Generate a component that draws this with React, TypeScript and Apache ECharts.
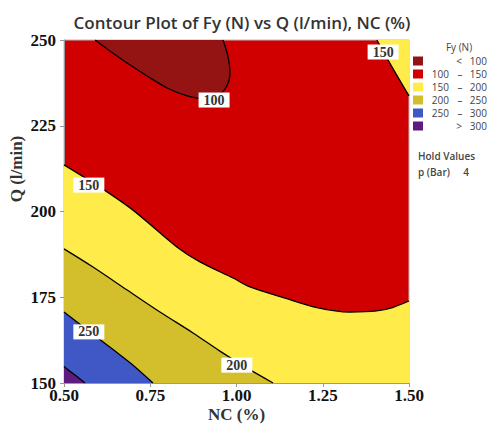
import React, { useEffect, useRef } from "react";
import * as echarts from "echarts";

// Contour lines: [NC (%), Q (l/min)]
const contour100 = [[0.590, 250], [0.633, 246.8], [0.683, 243.3], [0.741, 239.5], [0.799, 236.0], [0.857, 233.7], [0.909, 232.8], [0.946, 233.7], [0.972, 236.6], [0.981, 240.4], [0.975, 245.3], [0.961, 250]];
const contour150Upper = [[1.407, 250], [1.451, 242.1], [1.5, 233.7]];
const contour150Lower = [[0.5, 213.6], [0.604, 207.1], [0.700, 200.4], [0.828, 189.6], [0.894, 185.3], [0.990, 180.6], [1.039, 178.0], [1.136, 174.9], [1.233, 172.0], [1.328, 170.7], [1.406, 171.0], [1.452, 172.0], [1.5, 173.9]];
const contour200 = [[0.5, 189.1], [0.584, 183.8], [0.683, 177.1], [0.778, 170.7], [0.874, 164.6], [0.952, 159.3], [1.025, 154.7], [1.106, 150]];
const contour250 = [[0.5, 170.7], [0.575, 164.9], [0.648, 159.3], [0.706, 154.7], [0.758, 150]];
const contour300 = [[0.5, 154.8], [0.532, 152.3], [0.561, 150]];

// Contour labels: [NC, Q, level]
const contourLabels = [[0.935, 232.5, 100], [1.425, 246.5, 150], [0.572, 207.7, 150], [1.001, 155.2, 200], [0.572, 164.9, 250]];

const xTicks = [0.5, 0.75, 1.0, 1.25, 1.5];
const yTicks = [150, 175, 200, 225, 250];

const legendLow = ["<", "100", "150", "200", "250", ">"];
const legendHigh = ["100", "150", "200", "250", "300", "300"];
const bandColors = ["#941414", "#D00000", "#FFEB4A", "#D3BF2B", "#4057C6", "#5E1C7E"];

const SERIF = "'Liberation Serif', 'DejaVu Serif', serif";
const SANS = "'Open Sans', 'Noto Sans', sans-serif";

export default function App() {
  const ref = useRef<HTMLDivElement>(null);
  useEffect(() => {
    if (!ref.current) return;
    const chart = echarts.init(ref.current, null, { renderer: "svg" });

    const areaLine = (data: number[][], color: string, origin: string, z: number) => ({
      type: "line",
      data,
      smooth: 0.3,
      symbol: "none",
      z,
      lineStyle: { color: "#000", width: 1.3 },
      areaStyle: { color, opacity: 1, origin },
      silent: true,
    });

    const legendGraphics: any[] = [
      { type: "text", x: 459, y: 47, style: { text: "Fy (N)", font: `10px ${SANS}`, fill: "#444", align: "center", verticalAlign: "middle" } },
    ];
    bandColors.forEach((c, i) => {
      const y = 61 + i * 13;
      legendGraphics.push({ type: "rect", shape: { x: 413, y: y - 4.5, width: 10, height: 9 }, style: { fill: c } });
      const lo = legendLow[i];
      if (lo === "<" || lo === ">") {
        legendGraphics.push({ type: "text", x: 459, y, style: { text: lo, font: `10px ${SANS}`, fill: "#444", align: "center", verticalAlign: "middle" } });
      } else {
        legendGraphics.push({ type: "text", x: 449, y, style: { text: lo, font: `10px ${SANS}`, fill: "#444", align: "right", verticalAlign: "middle" } });
        legendGraphics.push({ type: "text", x: 460, y, style: { text: "–", font: `10px ${SANS}`, fill: "#444", align: "center", verticalAlign: "middle" } });
      }
      legendGraphics.push({ type: "text", x: 487, y, style: { text: legendHigh[i], font: `10px ${SANS}`, fill: "#444", align: "right", verticalAlign: "middle" } });
    });

    chart.setOption({
      animation: false,
      backgroundColor: "#fff",
      grid: { left: 64, top: 40, width: 345, height: 343, show: true, backgroundColor: "#D00000", borderColor: "#bbb", borderWidth: 1 },
      xAxis: {
        type: "value", min: 0.5, max: 1.5, interval: 0.25,
        axisLine: { onZero: false, lineStyle: { color: "#999" } },
        axisTick: { length: 4, lineStyle: { color: "#999" } },
        splitLine: { show: false },
        axisLabel: { formatter: (v: number) => v.toFixed(2), color: "#111", fontFamily: SERIF, fontWeight: "bold", fontSize: 17, margin: 4 },
      },
      yAxis: {
        type: "value", min: 150, max: 250, interval: 25,
        axisLine: { onZero: false, lineStyle: { color: "#999" } },
        axisTick: { length: 4, lineStyle: { color: "#999" } },
        splitLine: { show: false },
        axisLabel: { color: "#111", fontFamily: SERIF, fontWeight: "bold", fontSize: 17, margin: 8 },
      },
      series: [
        areaLine(contour150Lower, bandColors[2], "start", 2),
        areaLine(contour200, bandColors[3], "start", 3),
        areaLine(contour250, bandColors[4], "start", 4),
        areaLine(contour300, bandColors[5], "start", 5),
        areaLine(contour150Upper, bandColors[2], "end", 6),
        areaLine(contour100, bandColors[0], "end", 7),
        {
          type: "scatter",
          data: contourLabels,
          symbolSize: 0.1,
          z: 10,
          itemStyle: { color: "rgba(0,0,0,0)", opacity: 1 },
          silent: true,
          label: {
            show: true, position: "inside",
            formatter: (p: any) => String(p.value[2]),
            backgroundColor: "#ffffff", padding: [1, 5, 0, 5], opacity: 1,
            color: "#333", fontFamily: SERIF, fontWeight: "bold", fontSize: 14,
          },
        },
      ],
      graphic: [
        { type: "text", x: 242, y: 22, style: { text: "Contour Plot of Fy (N) vs Q (l/min), NC (%)", font: `600 17px ${SANS}`, fill: "#333", align: "center", verticalAlign: "middle" } },
        { type: "text", x: 236.5, y: 414, style: { text: "NC (%)", font: `bold 17px ${SERIF}`, fill: "#333", align: "center", verticalAlign: "middle" } },
        { type: "text", x: 16, y: 169, rotation: Math.PI / 2, style: { text: "Q (l/min)", font: `bold 17px ${SERIF}`, fill: "#333", align: "center", verticalAlign: "middle" } },
        ...legendGraphics,
        { type: "text", x: 418, y: 156, style: { text: "Hold Values", font: `600 10px ${SANS}`, fill: "#444", verticalAlign: "middle" } },
        { type: "text", x: 418, y: 172, style: { text: "p (Bar)", font: `600 10px ${SANS}`, fill: "#444", verticalAlign: "middle" } },
        { type: "text", x: 466, y: 172, style: { text: "4", font: `600 10px ${SANS}`, fill: "#444", align: "center", verticalAlign: "middle" } },
      ],
    });
    return () => chart.dispose();
  }, []);
  return <div ref={ref} style={{ position: "fixed", left: 0, top: 0, width: 492, height: 429 }} />;
}
